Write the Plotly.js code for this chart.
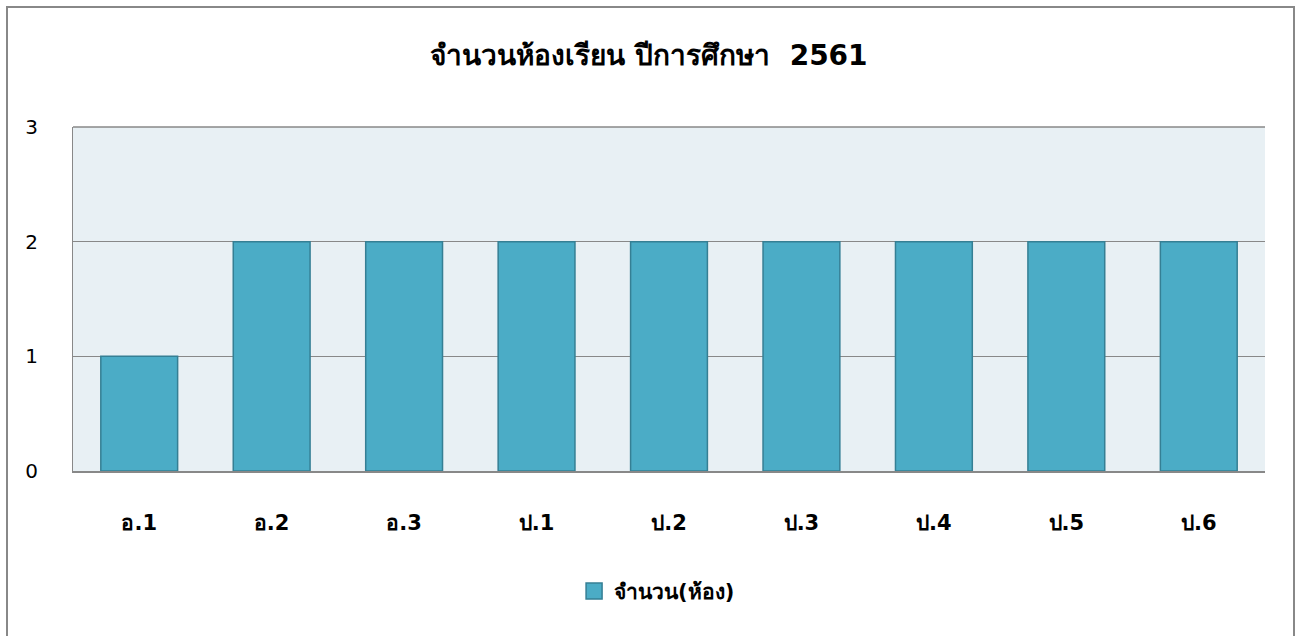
<!DOCTYPE html>
<html>
<head>
<meta charset="utf-8">
<script src="https://cdn.plot.ly/plotly-3.0.1.min.js"></script>
<style>
html,body{margin:0;padding:0;background:#fff;}
#chart{width:1298px;height:636px;}
</style>
</head>
<body>
<div id="chart"></div>
<script>
const categories = ["อ.1", "อ.2", "อ.3", "ป.1", "ป.2", "ป.3", "ป.4", "ป.5", "ป.6"];
const rooms = [1, 2, 2, 2, 2, 2, 2, 2, 2];
const seriesName = "จำนวน(ห้อง)";
const titleText = "จำนวนห้องเรียน ปีการศึกษา  2561";
const yTicks = [0, 1, 2, 3];

const FONT = "Tahoma, 'DejaVu Sans', 'Noto Sans', sans-serif";
const BAR_COLOR = "#4BACC6";
const BAR_LINE = "#357F94";

const barTrace = {
  type: "bar",
  x: categories,
  y: rooms,
  name: seriesName,
  marker: { color: BAR_COLOR, line: { color: BAR_LINE, width: 1.5 } },
  width: 0.58,
  showlegend: false
};

// legend-only entry with a larger square swatch
const legendTrace = {
  type: "scatter",
  mode: "markers",
  x: [categories[0]],
  y: [null],
  name: "<b>" + seriesName + "</b>",
  marker: { symbol: "square", size: 22, color: BAR_COLOR, line: { color: BAR_LINE, width: 1.5 } },
  showlegend: true,
  hoverinfo: "skip"
};

const layout = {
  width: 1298, height: 636,
  margin: { l: 73, r: 33, t: 127, b: 165 },
  paper_bgcolor: "#ffffff",
  plot_bgcolor: "#E8F0F4",
  font: { family: FONT, color: "#000", size: 20 },
  title: {
    text: "<b>" + titleText + "</b>",
    font: { family: FONT, size: 28, color: "#000" },
    x: 0.5, xanchor: "center", y: 0.913, yanchor: "middle"
  },
  bargap: 0.42,
  xaxis: {
    type: "category",
    range: [-0.5, categories.length - 0.5],
    showgrid: false,
    showline: true, linecolor: "#888888", linewidth: 2,
    ticks: "", ticklabelstandoff: 32,
    tickfont: { family: FONT, size: 21, color: "#000" },
    tickprefix: "<b>", ticksuffix: "</b>",
    fixedrange: true
  },
  yaxis: {
    range: [0, 3],
    tickvals: yTicks,
    showgrid: true, gridcolor: "#888888", gridwidth: 1.5,
    zeroline: false,
    showline: true, linecolor: "#888888", linewidth: 1,
    ticks: "", ticklabelstandoff: 30,
    tickfont: { family: FONT, size: 20, color: "#000" },
    fixedrange: true
  },
  legend: {
    orientation: "h",
    x: 0.49, xanchor: "center",
    y: -0.35, yanchor: "middle",
    font: { family: FONT, size: 21, color: "#000" },
    itemsizing: "trace",
    itemwidth: 30
  },
  shapes: [
    { type: "line", xref: "paper", yref: "paper", x0: 0, x1: 1, y0: 1, y1: 1,
      line: { color: "#888888", width: 1.5 } },
    { type: "rect", xref: "paper", yref: "paper",
      x0: (7 - 73) / 1192, x1: (1294 - 73) / 1192,
      y0: (471 - 660) / 344, y1: (471 - 7) / 344,
      line: { color: "#888888", width: 2 }, fillcolor: "rgba(0,0,0,0)", layer: "above" }
  ]
};

Plotly.newPlot("chart", [barTrace, legendTrace], layout, { displayModeBar: false, staticPlot: true });
</script>
</body>
</html>
